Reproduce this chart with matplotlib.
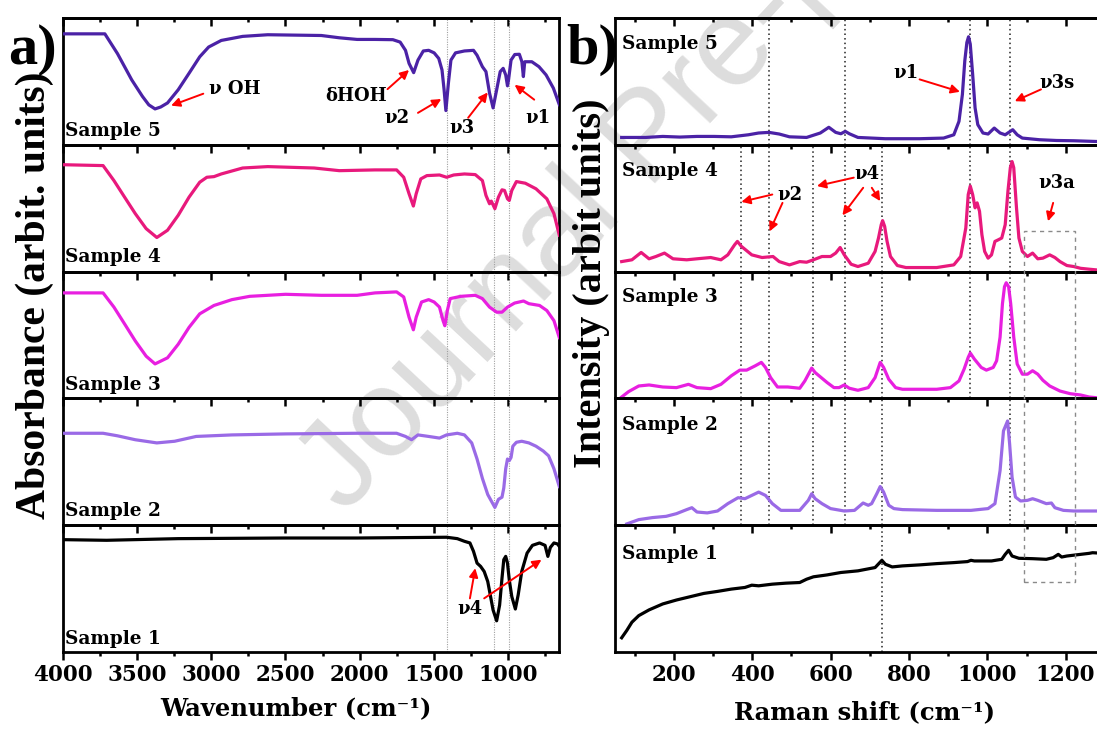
import matplotlib
matplotlib.use("Agg")
import matplotlib.pyplot as plt
from matplotlib.ticker import MultipleLocator
from matplotlib.patches import Rectangle
from matplotlib.transforms import blended_transform_factory

plt.rcParams["font.family"] = ["DejaVu Serif"]
plt.rcParams["font.weight"] = "bold"
TIMES = ["Liberation Serif", "DejaVu Serif"]

# ---------------- FTIR spectra (wavenumber in cm^-1, absorbance in arbitrary units) ----------------
ir_s5_wn = [4000, 3716, 3631, 3535, 3463, 3420, 3378, 3340, 3294, 3222, 3149, 3077, 3017, 2932, 2788,
            2619, 2258, 2137, 2017, 1896, 1776, 1727, 1691, 1667, 1636, 1607, 1571, 1535, 1498, 1467,
            1445, 1431, 1419, 1402, 1385, 1354, 1294, 1233, 1209, 1173, 1149, 1125, 1101, 1077, 1053,
            1033, 1016, 1004, 997, 980, 955, 924, 907, 897, 888, 840, 792, 744, 695, 655]
ir_s5_abs = [0.875, 0.875, 0.719, 0.512, 0.382, 0.315, 0.283, 0.298, 0.330, 0.434, 0.564, 0.694, 0.771,
             0.823, 0.855, 0.868, 0.862, 0.844, 0.831, 0.831, 0.829, 0.810, 0.745, 0.642, 0.569, 0.668,
             0.740, 0.745, 0.725, 0.681, 0.590, 0.434, 0.270, 0.486, 0.668, 0.725, 0.740, 0.745, 0.706,
             0.616, 0.577, 0.408, 0.291, 0.434, 0.577, 0.603, 0.551, 0.465, 0.512, 0.668, 0.712, 0.714,
             0.655, 0.538, 0.655, 0.655, 0.616, 0.551, 0.447, 0.317]

ir_s4_wn = [4000, 3728, 3655, 3583, 3511, 3438, 3366, 3294, 3222, 3149, 3077, 3029, 2981, 2932, 2788,
            2619, 2306, 2137, 1896, 1751, 1703, 1667, 1638, 1619, 1588, 1547, 1462, 1414, 1366, 1294,
            1221, 1173, 1149, 1125, 1113, 1089, 1065, 1041, 1024, 1004, 992, 975, 944, 884, 812, 739,
            691, 655]
ir_s4_abs = [0.843, 0.836, 0.718, 0.587, 0.457, 0.339, 0.269, 0.326, 0.444, 0.587, 0.705, 0.744, 0.749,
             0.770, 0.817, 0.828, 0.817, 0.796, 0.802, 0.802, 0.744, 0.614, 0.517, 0.614, 0.731, 0.757,
             0.762, 0.744, 0.762, 0.770, 0.765, 0.718, 0.601, 0.535, 0.556, 0.496, 0.587, 0.645, 0.640,
             0.574, 0.561, 0.640, 0.710, 0.697, 0.653, 0.574, 0.457, 0.287]

ir_s3_wn = [4000, 3728, 3655, 3583, 3511, 3438, 3378, 3294, 3222, 3149, 3077, 2981, 2860, 2740, 2499,
            2258, 2017, 1896, 1751, 1703, 1667, 1638, 1619, 1583, 1535, 1498, 1462, 1438, 1426, 1409,
            1390, 1318, 1221, 1173, 1125, 1077, 1041, 1004, 956, 896, 860, 788, 739, 691, 655]
ir_s3_abs = [0.832, 0.832, 0.720, 0.587, 0.453, 0.333, 0.272, 0.320, 0.427, 0.560, 0.667, 0.733, 0.779,
             0.805, 0.821, 0.813, 0.813, 0.832, 0.840, 0.800, 0.640, 0.541, 0.640, 0.760, 0.779, 0.760,
             0.720, 0.613, 0.573, 0.693, 0.787, 0.805, 0.813, 0.787, 0.720, 0.680, 0.680, 0.720, 0.752,
             0.768, 0.747, 0.733, 0.693, 0.613, 0.480]

ir_s2_wn = [4000, 3728, 3631, 3511, 3366, 3246, 3101, 2860, 2499, 2017, 1751, 1691, 1650, 1607, 1535,
            1462, 1414, 1342, 1294, 1245, 1209, 1173, 1137, 1089, 1065, 1041, 1029, 1016, 1004, 992, 980,
            968, 944, 908, 860, 812, 763, 727, 691, 655]
ir_s2_abs = [0.725, 0.725, 0.705, 0.674, 0.649, 0.662, 0.700, 0.712, 0.720, 0.725, 0.725, 0.700, 0.674,
             0.712, 0.700, 0.687, 0.712, 0.725, 0.712, 0.649, 0.522, 0.369, 0.242, 0.140, 0.204, 0.221,
             0.293, 0.445, 0.522, 0.509, 0.534, 0.623, 0.654, 0.662, 0.649, 0.623, 0.585, 0.547, 0.445,
             0.305]

ir_s1_wn = [4000, 3704, 3222, 2499, 2017, 1414, 1342, 1294, 1257, 1233, 1209, 1185, 1161, 1137, 1120,
            1101, 1077, 1057, 1041, 1029, 1016, 1004, 992, 975, 951, 932, 908, 872, 836, 788, 751, 732,
            715, 691, 667, 655]
ir_s1_abs = [0.886, 0.881, 0.894, 0.899, 0.899, 0.905, 0.894, 0.873, 0.860, 0.794, 0.701, 0.675, 0.635,
             0.556, 0.450, 0.331, 0.246, 0.370, 0.582, 0.728, 0.754, 0.701, 0.569, 0.437, 0.339, 0.450,
             0.635, 0.780, 0.841, 0.860, 0.841, 0.754, 0.825, 0.860, 0.852, 0.833]

# ---------------- Raman spectra (shift in cm^-1, intensity in arbitrary units) ----------------
ra_s5_shift = [66.4, 127.6, 171.3, 215, 258.7, 302.4, 346.2, 389.9, 416, 442.3, 468.6, 494.8, 538.5,
               573.5, 595.3, 612.8, 626, 637.3, 647.8, 669.6, 739.6, 827, 888.2, 914.4, 927.6, 936.3,
               942.4, 947.7, 952, 956.4, 962.5, 968.7, 975.6, 988.8, 1001.9, 1017.6, 1032.5, 1045.6,
               1064.8, 1076.2, 1089.3, 1133, 1176.7, 1220.5, 1280]
ra_s5_int = [0.058, 0.058, 0.066, 0.061, 0.066, 0.066, 0.063, 0.079, 0.093, 0.098, 0.085, 0.063, 0.058,
             0.093, 0.138, 0.098, 0.087, 0.106, 0.087, 0.058, 0.048, 0.048, 0.053, 0.079, 0.185, 0.397,
             0.661, 0.807, 0.852, 0.794, 0.556, 0.291, 0.159, 0.093, 0.085, 0.132, 0.093, 0.079, 0.119,
             0.079, 0.053, 0.040, 0.034, 0.032, 0.026]

ra_s4_shift = [66.4, 92.6, 116.2, 136.3, 153.8, 175.7, 197.5, 232.5, 258.7, 293.7, 319.9, 337.4, 354.9,
               361.9, 372.4, 398.6, 424.8, 452.8, 468.6, 494.8, 521, 538.5, 556, 577.8, 599.7, 612.8,
               624.2, 634.7, 652.2, 669.6, 695.9, 713.4, 722.1, 729.1, 732.6, 737.8, 744, 752.7, 770.2,
               792.1, 870.7, 914.4, 931.9, 945, 951.2, 956.4, 962.5, 968.7, 973.9, 980, 986.1, 993.1,
               1001.9, 1010.6, 1019.4, 1028.1, 1036.8, 1045.6, 1052.6, 1058.7, 1063.1, 1067.4, 1074.4,
               1080.6, 1089.3, 1102.4, 1115.5, 1128.7, 1141.8, 1159.2, 1172.4, 1185.5, 1203, 1220.5,
               1238, 1259.8, 1280]
ra_s4_int = [0.079, 0.093, 0.151, 0.101, 0.119, 0.146, 0.101, 0.093, 0.101, 0.111, 0.093, 0.132, 0.212,
             0.238, 0.198, 0.132, 0.111, 0.119, 0.079, 0.053, 0.079, 0.074, 0.093, 0.119, 0.119, 0.146,
             0.190, 0.132, 0.058, 0.040, 0.066, 0.159, 0.265, 0.370, 0.402, 0.357, 0.238, 0.119, 0.048,
             0.032, 0.032, 0.053, 0.119, 0.344, 0.608, 0.675, 0.608, 0.503, 0.542, 0.476, 0.291, 0.159,
             0.106, 0.132, 0.238, 0.251, 0.265, 0.370, 0.635, 0.820, 0.868, 0.820, 0.503, 0.265, 0.159,
             0.119, 0.146, 0.101, 0.106, 0.132, 0.111, 0.079, 0.048, 0.040, 0.026, 0.019, 0.013]

ra_s3_shift = [66.4, 83.9, 110.1, 136.3, 171.3, 206.3, 236.9, 258.7, 293.7, 319.9, 346.2, 368, 385.5,
               407.4, 423.1, 433.6, 446.7, 464.2, 490.4, 521, 534.1, 551.6, 560.4, 573.5, 591, 608.4,
               621.5, 634.7, 647.8, 669.6, 695.9, 713.4, 726.5, 735.2, 748.3, 765.8, 783.3, 827, 870.7,
               905.7, 927.6, 940.7, 951.2, 956.4, 966.9, 984.4, 997.5, 1015, 1023.7, 1032.5, 1038.6,
               1043.8, 1048.2, 1054.3, 1059.6, 1067.4, 1076.2, 1089.3, 1102.4, 1115.5, 1128.7, 1141.8,
               1159.2, 1185.5, 1211.7, 1238, 1259.8, 1280]
ra_s3_int = [0.011, 0.053, 0.098, 0.106, 0.090, 0.085, 0.111, 0.085, 0.077, 0.111, 0.178, 0.223, 0.223,
             0.257, 0.284, 0.244, 0.164, 0.090, 0.090, 0.080, 0.138, 0.239, 0.204, 0.170, 0.125, 0.085,
             0.085, 0.106, 0.080, 0.064, 0.085, 0.164, 0.284, 0.244, 0.151, 0.085, 0.072, 0.072, 0.072,
             0.085, 0.138, 0.231, 0.324, 0.358, 0.310, 0.244, 0.223, 0.244, 0.297, 0.483, 0.748, 0.881,
             0.912, 0.881, 0.748, 0.483, 0.271, 0.191, 0.191, 0.218, 0.191, 0.143, 0.098, 0.058, 0.037,
             0.027, 0.011, 0.005]

ra_s2_shift = [79.5, 110.1, 145.1, 180, 206.3, 232.5, 245.6, 258.7, 284.9, 311.2, 337.4, 363.6, 381.1,
               398.6, 416.1, 433.6, 451.1, 472.9, 521, 542.9, 551.6, 560.4, 577.8, 599.7, 634.7, 660.9,
               682.8, 695.9, 704.6, 717.7, 726.5, 735.2, 748.3, 761.4, 783.3, 870.7, 958.2, 1001.9,
               1019.4, 1032.5, 1041.2, 1051.7, 1056.9, 1063.1, 1071.8, 1084.9, 1102.4, 1115.5, 1128.7,
               1150.5, 1163.6, 1172.4, 1194.2, 1220.5, 1280]
ra_s2_int = [0.010, 0.044, 0.060, 0.070, 0.091, 0.123, 0.138, 0.104, 0.097, 0.112, 0.170, 0.217, 0.209,
             0.235, 0.261, 0.235, 0.170, 0.117, 0.117, 0.196, 0.248, 0.209, 0.170, 0.131, 0.112, 0.117,
             0.175, 0.157, 0.170, 0.248, 0.305, 0.261, 0.157, 0.131, 0.123, 0.117, 0.117, 0.131, 0.170,
             0.431, 0.744, 0.822, 0.640, 0.379, 0.222, 0.191, 0.196, 0.209, 0.196, 0.170, 0.175, 0.138,
             0.117, 0.112, 0.112]

ra_s1_shift = [66.4, 79.5, 92.6, 110.1, 136.3, 171.3, 206.3, 241.2, 276.2, 311.2, 346.2, 381.1, 398.6,
               416.1, 451.1, 486, 521, 538.5, 556, 591, 626, 669.6, 713.4, 730.8, 739.6, 757.1, 783.3,
               827, 870.7, 914.4, 949.4, 958.2, 966.9, 1010.6, 1036.8, 1045.6, 1054.3, 1063.1, 1080.6,
               1115.5, 1150.5, 1168, 1181.1, 1189.8, 1203, 1238, 1259.8, 1268.6, 1280]
ra_s1_int = [0.112, 0.170, 0.235, 0.287, 0.332, 0.379, 0.410, 0.436, 0.462, 0.478, 0.496, 0.509, 0.527,
             0.522, 0.535, 0.543, 0.548, 0.574, 0.593, 0.608, 0.627, 0.640, 0.666, 0.723, 0.692, 0.671,
             0.679, 0.687, 0.697, 0.705, 0.713, 0.723, 0.718, 0.718, 0.731, 0.770, 0.802, 0.757, 0.739,
             0.736, 0.731, 0.744, 0.770, 0.749, 0.757, 0.770, 0.778, 0.783, 0.781]

sample_names = ["Sample 5", "Sample 4", "Sample 3", "Sample 2", "Sample 1"]
sample_colors = ["#4B22A6", "#E8197C", "#E81FE0", "#9A6AE6", "#000000"]

ir_wn = [ir_s5_wn, ir_s4_wn, ir_s3_wn, ir_s2_wn, ir_s1_wn]
ir_abs = [ir_s5_abs, ir_s4_abs, ir_s3_abs, ir_s2_abs, ir_s1_abs]
ra_shift = [ra_s5_shift, ra_s4_shift, ra_s3_shift, ra_s2_shift, ra_s1_shift]
ra_int = [ra_s5_int, ra_s4_int, ra_s3_int, ra_s2_int, ra_s1_int]

# reference band positions
ir_guides = [1409, 1094, 993]
raman_guides = {370: [1, 2, 3], 442: [0, 1, 2, 3], 554: [1, 2, 3], 637: [0, 1, 2, 3],
                731: [1, 2, 3, 4], 956: [0, 1, 2], 1057: [0, 1, 2, 3]}

# label heights of the sample names (fraction of each panel)
ir_label_y = [0.109, 0.117, 0.107, 0.115, 0.106]
ra_label_y = [0.794, 0.794, 0.800, 0.791, 0.770]

# ---------------- layout ----------------
W, H = 1097, 734
fig = plt.figure(figsize=(W / 100, H / 100), dpi=100)
fig.patch.set_facecolor("white")

TOP, BOT = 18.0, 652.0
PH = (BOT - TOP) / 5


def panel_rect(x0, x1, i):
    top = TOP + i * PH
    return [x0 / W, 1 - (top + PH) / H, (x1 - x0) / W, PH / H]


def style_axis(ax, major, minor, is_bottom, is_top):
    ax.set_facecolor("none")
    for sp in ax.spines.values():
        sp.set_linewidth(2.0)
    ax.set_yticks([])
    ax.set_ylim(0, 1)
    ax.xaxis.set_major_locator(MultipleLocator(major))
    ax.xaxis.set_minor_locator(MultipleLocator(minor))
    ax.tick_params(axis="x", which="major", direction="out", length=5.5, width=1.8,
                   labelsize=15.5, pad=3, labelbottom=is_bottom)
    ax.tick_params(axis="x", which="minor", direction="out", length=3, width=1.8)
    if is_top:
        sec = ax.secondary_xaxis("top")
        sec.xaxis.set_major_locator(MultipleLocator(major))
        sec.xaxis.set_minor_locator(MultipleLocator(minor))
        sec.tick_params(axis="x", which="major", direction="in", length=5.5, width=1.8, labeltop=False)
        sec.tick_params(axis="x", which="minor", direction="in", length=3, width=1.8)
        sec.spines["top"].set_linewidth(2.0)


def arrow(ax, tail, tip):
    ax.annotate("", xy=tip, xytext=tail,
                arrowprops=dict(arrowstyle="-|>", color="red", lw=1.4, mutation_scale=13,
                                shrinkA=0, shrinkB=0))


def label(ax, x, y, s, size=13):
    ax.text(x, y, s, ha="center", va="center", fontsize=size, fontweight="bold")


# watermark behind the panels
fig.text(345 / W, 1 - 515 / H, "Journal Pre-proof", rotation=47, rotation_mode="anchor",
         ha="left", va="baseline", fontsize=90, fontweight="normal", family="Liberation Sans",
         color="#dddddd", zorder=-5)

ir_axes, ra_axes = [], []
for i in range(5):
    ax = fig.add_axes(panel_rect(62.7, 559.3, i))
    ax.set_xlim(4000, 655)
    style_axis(ax, 500, 250, i == 4, i == 0)
    for g in ir_guides:
        ax.axvline(g, color="#a0a0a0", lw=0.8, ls=(0, (1, 1.2)), zorder=1)
    ax.plot(ir_wn[i], ir_abs[i], color=sample_colors[i], lw=2.3, solid_joinstyle="round", zorder=3)
    ax.text(0.0056, ir_label_y[i], sample_names[i], transform=ax.transAxes, ha="left", va="center",
            fontsize=13.3, fontweight="bold")
    ir_axes.append(ax)

    bx = fig.add_axes(panel_rect(615.0, 1098.0, i))
    bx.set_xlim(49.4, 1282.5)
    style_axis(bx, 200, 100, i == 4, i == 0)
    for g, rows in raman_guides.items():
        if i in rows:
            bx.axvline(g, color="#222222", lw=1.1, ls=(0, (1, 2)), zorder=1)
    bx.plot(ra_shift[i], ra_int[i], color=sample_colors[i], lw=2.3, solid_joinstyle="round", zorder=3)
    bx.text(0.0137, ra_label_y[i], sample_names[i], transform=bx.transAxes, ha="left", va="center",
            fontsize=13.3, fontweight="bold")
    ra_axes.append(bx)

# FTIR band assignments
a5 = ir_axes[0]
a5.text(3017, 0.439, "ν OH", ha="left", va="center", fontsize=13, fontweight="bold")
arrow(a5, (3053, 0.403), (3270, 0.309))
a5.text(2233, 0.382, "δHOH", ha="left", va="center", fontsize=13, fontweight="bold")
arrow(a5, (1812, 0.439), (1667, 0.590))
label(a5, 1747, 0.213, "ν2")
arrow(a5, (1607, 0.252), (1450, 0.361))
label(a5, 1313, 0.135, "ν3")
arrow(a5, (1269, 0.213), (1137, 0.413))
label(a5, 800, 0.213, "ν1")
arrow(a5, (824, 0.356), (956, 0.473))

a1 = ir_axes[4]
label(a1, 1257, 0.339, "ν4")
arrow(a1, (1257, 0.423), (1221, 0.661))
arrow(a1, (1161, 0.423), (775, 0.728))

# Raman band assignments
b5 = ra_axes[0]
label(b5, 792, 0.569, "ν1")
arrow(b5, (827, 0.516), (930, 0.418))
label(b5, 1177, 0.489, "ν3s")
arrow(b5, (1137, 0.437), (1070, 0.344))

b4 = ra_axes[1]
label(b4, 495, 0.608, "ν2")
arrow(b4, (451, 0.608), (372, 0.550))
arrow(b4, (477, 0.542), (444, 0.317))
label(b4, 693, 0.767, "ν4")
arrow(b4, (659, 0.741), (565, 0.675))
arrow(b4, (683, 0.661), (630, 0.444))
arrow(b4, (705, 0.661), (726.5, 0.556))
label(b4, 1178, 0.701, "ν3a")
arrow(b4, (1168, 0.542), (1155, 0.397))

# dashed box marking the ν3a region across the Raman panels
trans = blended_transform_factory(ra_axes[0].transData, fig.transFigure)
box_top, box_bot = 1 - 231 / H, 1 - 582 / H
fig.patches.append(Rectangle((1093.7, box_bot), 1225 - 1093.7, box_top - box_bot, transform=trans,
                             fill=False, edgecolor="#8a8a8a", lw=1.0, ls=(0, (3, 3)), zorder=5))

# axis titles and panel letters
fig.text(296 / W, 1 - 708 / H, "Wavenumber (cm⁻¹)", ha="center", va="center", fontsize=17.5,
         fontweight="bold")
fig.text(864 / W, 1 - 712 / H, "Raman shift (cm⁻¹)", ha="center", va="center", fontsize=17.5,
         fontweight="bold")
fig.text(35 / W, 1 - 295 / H, "Absorbance (arbit. units)", rotation=90, ha="center", va="center",
         fontsize=30, fontweight="bold", family=TIMES)
fig.text(592 / W, 1 - 283 / H, "Intensity (arbit units)", rotation=90, ha="center", va="center",
         fontsize=29, fontweight="bold", family=TIMES)
fig.text(8 / W, 1 - 64 / H, "a)", ha="left", va="baseline", fontsize=42, fontweight="bold", family=TIMES)
fig.text(566 / W, 1 - 64 / H, "b)", ha="left", va="baseline", fontsize=42, fontweight="bold", family=TIMES)

fig.savefig("out.png", dpi=100, facecolor="white")
